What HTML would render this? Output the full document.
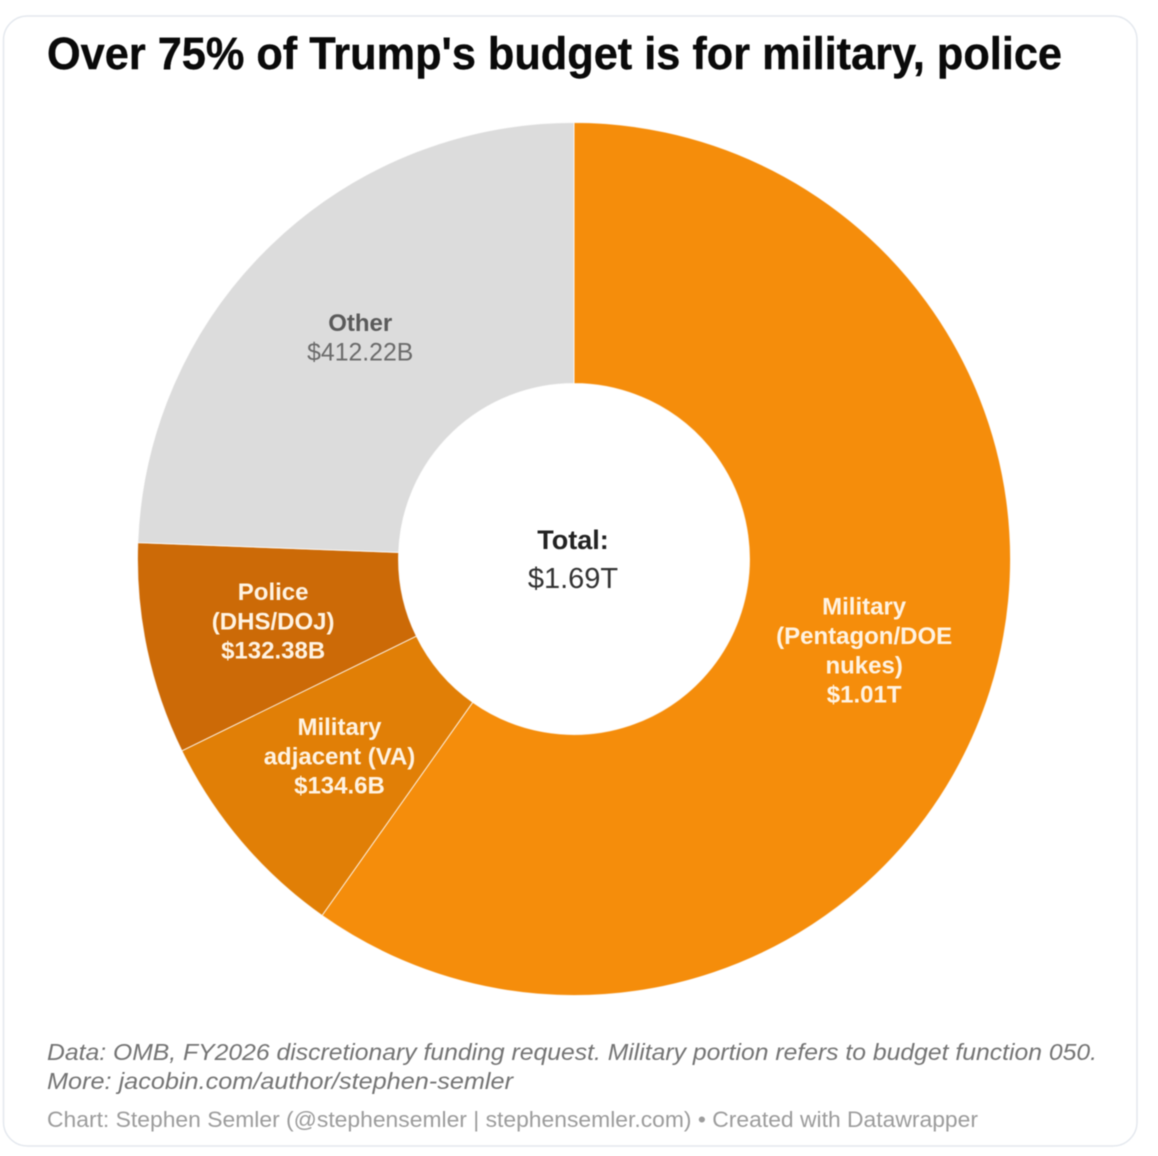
<!DOCTYPE html>
<html lang="en">
<head>
<meta charset="utf-8">
<title>Over 75% of Trump's budget is for military, police</title>
<style>
html,body{margin:0;padding:0;background:#fff;width:1158px;height:1156px;overflow:hidden}
svg{display:block;filter:blur(0.45px)}
text{font-family:"Liberation Sans",Arial,sans-serif}
</style>
</head>
<body>
<svg id="chart" xmlns="http://www.w3.org/2000/svg" width="1158" height="1156" viewBox="0 0 1158 1156">
  <rect x="3.5" y="16" width="1133.5" height="1130" rx="24" ry="24" fill="#fff" stroke="#e4e8ee" stroke-width="1.5"/>
  <text x="47" y="69" font-size="45" font-weight="700" fill="#0a0a0a" stroke="#0a0a0a" stroke-width="0.4" textLength="1015" lengthAdjust="spacingAndGlyphs">Over 75% of Trump's budget is for military, police</text>
  <g id="slices"></g>
  <g id="labels"></g>
  <text x="573" y="549" text-anchor="middle" font-size="27" font-weight="700" fill="#222">Total:</text>
  <text x="573" y="588" text-anchor="middle" font-size="29" fill="#333">$1.69T</text>
  <text x="47" y="1060" font-size="23.5" font-style="italic" fill="#747474" textLength="1050" lengthAdjust="spacingAndGlyphs">Data: OMB, FY2026 discretionary funding request. Military portion refers to budget function 050.</text>
  <text x="47" y="1089" font-size="23.5" font-style="italic" fill="#747474" textLength="466" lengthAdjust="spacingAndGlyphs">More: jacobin.com/author/stephen-semler</text>
  <text x="47" y="1127" font-size="22" fill="#9c9c9c" textLength="931" lengthAdjust="spacingAndGlyphs">Chart: Stephen Semler (@stephensemler | stephensemler.com) • Created with Datawrapper</text>
</svg>
<script>
const categories = ["Military", "Military adjacent", "Police", "Other"];
const seriesValues = [1010, 134.6, 132.38, 412.22];
const sliceColors = ["#f58d0b", "#e17f06", "#cc6a07", "#dcdcdc"];
const labelLines = [
  ["Military", "(Pentagon/DOE", "nukes)", "$1.01T"],
  ["Military", "adjacent (VA)", "$134.6B"],
  ["Police", "(DHS/DOJ)", "$132.38B"],
  ["Other", "$412.22B"]
];

const NS = "http://www.w3.org/2000/svg";
const cx = 574, cy = 559, outerR = 436.5, innerR = 175.5, labelR = 306, lineGap = 29.3;
const total = seriesValues.reduce((a, b) => a + b, 0);
const angleOf = v => (v / total) * Math.PI * 2;
const px = (a, r) => cx + r * Math.sin(a);
const py = (a, r) => cy - r * Math.cos(a);
const slicesGroup = document.getElementById("slices");
const labelsGroup = document.getElementById("labels");

let cumulative = 0;
seriesValues.forEach((value, i) => {
  const a0 = angleOf(cumulative);
  const a1 = angleOf(cumulative + value);
  cumulative += value;
  const large = a1 - a0 > Math.PI ? 1 : 0;
  const d = "M" + px(a0, outerR) + " " + py(a0, outerR) +
    " A" + outerR + " " + outerR + " 0 " + large + " 1 " + px(a1, outerR) + " " + py(a1, outerR) +
    " L" + px(a1, innerR) + " " + py(a1, innerR) +
    " A" + innerR + " " + innerR + " 0 " + large + " 0 " + px(a0, innerR) + " " + py(a0, innerR) + " Z";
  const path = document.createElementNS(NS, "path");
  path.setAttribute("d", d);
  path.setAttribute("fill", sliceColors[i]);
  path.setAttribute("stroke", "#fff");
  path.setAttribute("stroke-opacity", "0.75");
  path.setAttribute("stroke-width", "1");
  
  
  slicesGroup.appendChild(path);

  const mid = (a0 + a1) / 2;
  const lx = px(mid, labelR) - 1.5;
  const ly = py(mid, labelR) - 1.5;
  const lines = labelLines[i];
  const isOther = categories[i] === "Other";
  lines.forEach((line, j) => {
    const t = document.createElementNS(NS, "text");
    t.setAttribute("x", lx);
    t.setAttribute("y", ly + (j - (lines.length - 1) / 2) * lineGap + 8.5);
    t.setAttribute("text-anchor", "middle");
    const regular = isOther && j > 0;
    t.setAttribute("font-size", regular ? "24.8" : "24");
    t.setAttribute("font-weight", regular ? "400" : "700");
    t.setAttribute("fill", isOther ? (regular ? "#6b6b6b" : "#5a5a5a") : "#fff3e2");
    
    
    t.textContent = line;
    labelsGroup.appendChild(t);
  });
});
</script>
</body>
</html>
